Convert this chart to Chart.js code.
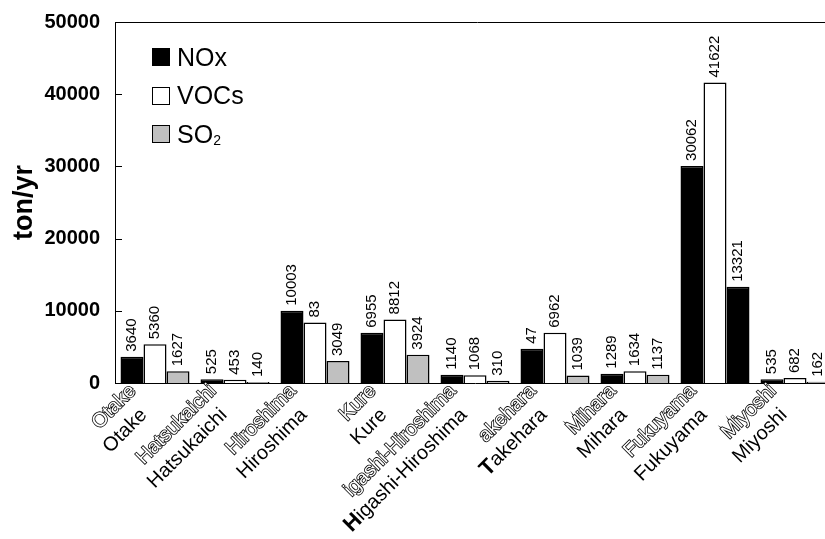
<!DOCTYPE html>
<html>
<head>
<meta charset="utf-8">
<script src="https://cdn.jsdelivr.net/npm/chart.js@4/dist/chart.umd.min.js"></script>
<style>
  body { margin: 0; background: #fff; }
  #wrap { position: relative; width: 825px; height: 539px; overflow: hidden; }
  #box { position: absolute; left: 0; top: -5px; width: 840px; height: 544px; }
  #legend { position: absolute; left: 152px; top: 38px; font-family: "Liberation Sans", Arial, sans-serif; }
  .item { display: flex; align-items: center; height: 38.5px; font-size: 25px; color: #000; }
  .box { width: 16px; height: 16px; border: 1px solid #000; margin-right: 7px; }
  .item sub { font-size: 14px; vertical-align: -2px; }
</style>
</head>
<body>
<div id="wrap">
  <div id="box"><canvas id="chart"></canvas></div>
  <div id="legend"></div>
</div>
<script>
// categories (solid labels and the hollow copies that sit above them)
const cities = ["Otake", "Hatsukaichi", "Hiroshima", "Kure", "Higashi-Hiroshima", "Takehara", "Mihara", "Fukuyama", "Miyoshi"];
const ghostCities = ["Otake", "Hatsukaichi", "Hiroshima", "Kure", "igashi-Hiroshima", "akehara", "Mihara", "Fukuyama", "Miyoshi"];
const boldInitial = [false, false, false, false, true, true, false, false, false];

// emissions, ton/yr
const nox = [3640, 525, 10003, 6955, 1140, 4747, 1289, 30062, 535];
const vocs = [5360, 453, 8383, 8812, 1068, 6962, 1634, 41622, 682];
const so2 = [1627, 140, 3049, 3924, 310, 1039, 1137, 13321, 162];

// value labels as printed on the picture
const noxText = ["3640", "525", "10003", "6955", "1140", "47", "1289", "30062", "535"];
const vocsText = ["5360", "453", "83", "8812", "1068", "6962", "1634", "41622", "682"];
const so2Text = ["1627", "140", "3049", "3924", "310", "1039", "1137", "13321", "162"];

const yTicks = [0, 10000, 20000, 30000, 40000, 50000];

const FONT = "'Liberation Sans', Arial, sans-serif";
Chart.defaults.font.family = FONT;
Chart.defaults.color = "#000";

// gray bars, except the Fukuyama one that is printed black
const so2Colors = so2.map((v, i) => (cities[i] === "Fukuyama" ? "#000" : "#c0c0c0"));

const valueLabels = {
  id: "valueLabels",
  afterDatasetsDraw(chart) {
    const ctx = chart.ctx;
    ctx.save();
    ctx.font = "15px " + FONT;
    ctx.fillStyle = "#000";
    ctx.textAlign = "left";
    ctx.textBaseline = "middle";
    chart.data.datasets.forEach((ds, di) => {
      const meta = chart.getDatasetMeta(di);
      meta.data.forEach((bar, i) => {
        ctx.save();
        ctx.translate(bar.x, bar.y - 5);
        ctx.rotate(-Math.PI / 2);
        ctx.fillText(ds.texts[i], 0, 0);
        ctx.restore();
      });
    });
    ctx.restore();
  },
};

const frame = {
  id: "frame",
  afterDraw(chart) {
    const ctx = chart.ctx;
    const area = chart.chartArea;
    const y = chart.scales.y;
    const x = chart.scales.x;
    ctx.save();
    ctx.strokeStyle = "#000";
    ctx.lineWidth = 1;
    // top border
    ctx.beginPath();
    ctx.moveTo(area.left, area.top + 0.5);
    ctx.lineTo(chart.width, area.top + 0.5);
    ctx.stroke();
    // inward tick marks on the y axis
    yTicks.forEach((t) => {
      const py = Math.round(y.getPixelForValue(t)) + 0.5;
      ctx.beginPath();
      ctx.moveTo(area.left, py);
      ctx.lineTo(area.left + 7, py);
      ctx.stroke();
    });

    ctx.textAlign = "right";
    ctx.textBaseline = "middle";
    // hollow copies of the category labels
    ctx.font = "20px " + FONT;
    ghostCities.forEach((name, i) => {
      const px = x.getPixelForValue(i);
      ctx.save();
      ctx.translate(px - 22, area.bottom + 5);
      ctx.rotate(-Math.PI / 4);
      ctx.lineWidth = 1.6;
      ctx.strokeStyle = "#000";
      ctx.strokeText(name, 0, 0);
      ctx.fillStyle = "#fff";
      ctx.fillText(name, 0, 0);
      ctx.restore();
    });
    // solid category labels
    cities.forEach((name, i) => {
      const px = x.getPixelForValue(i);
      ctx.save();
      ctx.translate(px - 11, area.bottom + 29);
      ctx.rotate(-Math.PI / 4);
      ctx.fillStyle = "#000";
      ctx.font = "20px " + FONT;
      if (boldInitial[i]) {
        const rest = name.slice(1);
        ctx.fillText(rest, 0, 0);
        const w = ctx.measureText(rest).width;
        ctx.font = "bold 22px " + FONT;
        ctx.fillText(name[0], -w, 0);
      } else {
        ctx.fillText(name, 0, 0);
      }
      ctx.restore();
    });
    ctx.restore();
  },
};

const ctx = document.getElementById("chart").getContext("2d");
const chart = new Chart(ctx, {
  type: "bar",
  data: {
    labels: cities,
    datasets: [
      { label: "NOx", data: nox, texts: noxText, backgroundColor: "#000", borderColor: "#000", borderWidth: 1.5 },
      { label: "VOCs", data: vocs, texts: vocsText, backgroundColor: "#fff", borderColor: "#000", borderWidth: 1.5 },
      { label: "SO2", data: so2, texts: so2Text, backgroundColor: so2Colors, borderColor: "#000", borderWidth: 1.5 },
    ],
  },
  options: {
    responsive: true,
    maintainAspectRatio: false,
    animation: false,
    layout: { padding: { top: 15, right: 5, left: 0, bottom: 0 } },
    datasets: { bar: { categoryPercentage: 0.8625, barPercentage: 1 } },
    plugins: { legend: { display: false }, tooltip: { enabled: false } },
    scales: {
      x: {
        grid: { display: false, drawTicks: false },
        border: { display: true, color: "#000", width: 1 },
        ticks: { display: false },
        afterFit(scale) { scale.height = 156; },
      },
      y: {
        min: 0,
        max: 50000,
        afterBuildTicks(scale) { scale.ticks = yTicks.map((v) => ({ value: v })); },
        grid: { display: false, drawTicks: false },
        border: { display: true, color: "#000", width: 1 },
        ticks: {
          padding: 15,
          font: { size: 20, weight: "bold" },
          color: "#000",
          callback: (v) => String(v),
        },
        title: { display: true, text: "ton/yr", font: { size: 27, weight: "bold" }, color: "#000", padding: { top: 8, bottom: 0 } },
        afterFit(scale) { scale.width = 115; },
      },
    },
  },
  plugins: [valueLabels, frame],
});

// legend in the corner of the plot
const legendNames = ["NOx", "VOCs", "SO<sub>2</sub>"];
const legendColors = ["#000", "#fff", "#c0c0c0"];
const legend = document.getElementById("legend");
legendNames.forEach((name, i) => {
  const row = document.createElement("div");
  row.className = "item";
  const box = document.createElement("div");
  box.className = "box";
  box.style.background = legendColors[i];
  const label = document.createElement("span");
  label.innerHTML = name;
  row.appendChild(box);
  row.appendChild(label);
  legend.appendChild(row);
});
</script>
</body>
</html>
